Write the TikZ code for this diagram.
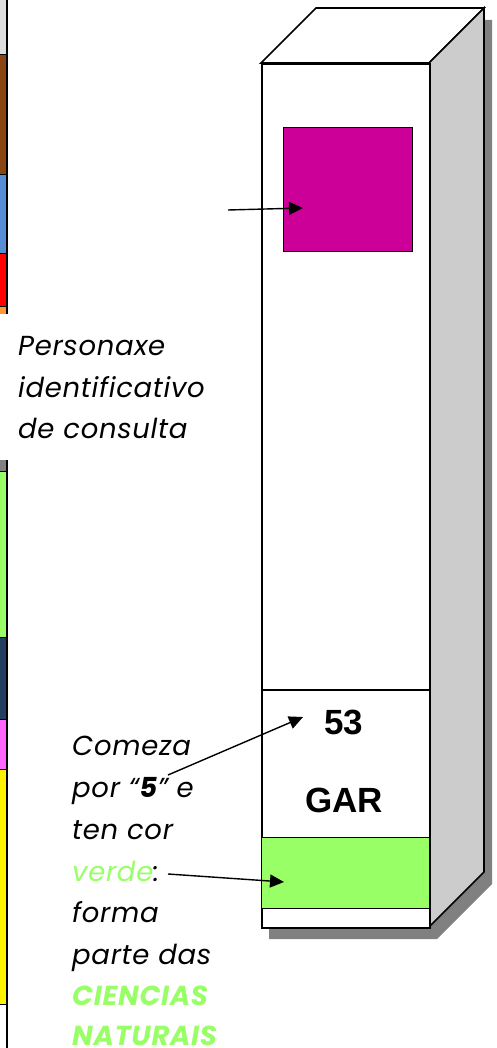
\documentclass[tikz,border=0pt]{standalone}
\usepackage{fontspec}
\setmainfont{Poppins}[LetterSpace=2.5]
\newfontfamily\arialfont{Liberation Sans}
\usetikzlibrary{arrows.meta}
\definecolor{sgreen}{HTML}{99FF66}
\definecolor{smag}{HTML}{CC0099}
\definecolor{sside}{HTML}{CCCCCC}
\definecolor{sshadow}{HTML}{808080}
\definecolor{sbrown}{HTML}{8B4513}
\definecolor{sblue}{HTML}{558ED5}
\definecolor{snavy}{HTML}{243F60}
\definecolor{spink}{HTML}{FF66FF}
\definecolor{sorange}{HTML}{FF9933}
\begin{document}
\begin{tikzpicture}[x=1pt,y=-1pt,
  edge/.style={draw=black,line width=1.6pt,line join=miter},
  band/.style={draw=black,line width=1.2pt},
  note/.style={anchor=base west,inner sep=0pt,font=\fontsize{27.5}{30}\selectfont\itshape},
  big/.style={inner sep=0pt,font=\fontsize{35}{40}\selectfont\arialfont\bfseries},
  pointer/.style={draw=black,line width=1.4pt,-{Triangle[length=14pt,width=13pt]}}]
\useasboundingbox (0,0) rectangle (496,1048);
% left strip
\fill[gray!25] (0,0) rectangle (7,55);
\fill[sbrown] (0,55) rectangle (7,175);
\fill[sblue] (0,175) rectangle (7,254);
\fill[red] (0,254) rectangle (7,306);
\fill[sorange] (0,306) rectangle (7,314);
\fill[gray] (0,460) rectangle (7,471);
\fill[sgreen] (0,471) rectangle (7,637);
\fill[snavy] (0,637) rectangle (7,719);
\fill[spink] (0,719) rectangle (7,769);
\fill[yellow] (0,769) rectangle (7,1004);
\foreach \yy in {55,175,254,306,471,637,719,769,1004}
  \draw[line width=1pt] (0,\yy) -- (7,\yy);
\draw[line width=2pt] (7,0) -- (7,314);
\draw[line width=2pt] (7,460) -- (7,1048);
% shadow
\fill[sshadow] (269,75) -- (324,20) -- (492,20) -- (492,884) -- (437,939) -- (269,939) -- cycle;
% top face
\draw[edge,fill=white] (261,63) -- (316,8) -- (484,8) -- (429,63) -- cycle;
% side face
\draw[edge,fill=sside] (429,63) -- (484,8) -- (484,872) -- (429,927) -- cycle;
% front
\node[edge,fill=white,minimum width=168pt,minimum height=864pt,inner sep=0pt,anchor=north west] (front) at (261,63) {};
\draw[band] (261,690) -- (429,690);
\node[band,fill=sgreen,minimum width=168pt,minimum height=71pt,inner sep=0pt,anchor=north west] (greenband) at (261,837) {};
\node[draw=black,line width=1.4pt,fill=smag,minimum width=129pt,minimum height=124pt,inner sep=0pt,anchor=north west] (pic) at (283,127) {};
\node[big] (num) at (344,722) {53};
\node[big] (gar) at (344,800) {GAR};
% notes
\node[note] (p1) at (18,355) {Personaxe};
\node[note] (p2) at (18,397) {identificativo};
\node[note] (p3) at (18,438) {de consulta};
\node[note] (c1) at (72,755) {Comeza};
\node[note] (c2) at (72,797) {por “\textbf{5}” e};
\node[note] (c3) at (72,839) {ten cor};
\node[note] (c4) at (72,881) {\textcolor{sgreen}{verde}:};
\node[note] (c5) at (72,922) {forma};
\node[note] (c6) at (72,964) {parte das};
\node[note,text=sgreen] (c7) at (72,1005) {\textbf{CIENCIAS}};
\node[note,text=sgreen] (c8) at (72,1045) {\textbf{NATURAIS}};
% pointers
\coordinate (s1) at (228,210);
\coordinate (e1) at (303,208);
\coordinate (s2) at (168,775);
\coordinate (e2) at (303,717);
\coordinate (s3) at (168,874);
\coordinate (e3) at (284,882);
\draw[pointer] (s1) -- (e1);
\draw[pointer] (s2) -- (e2);
\draw[pointer] (s3) -- (e3);
\end{tikzpicture}
\end{document}
